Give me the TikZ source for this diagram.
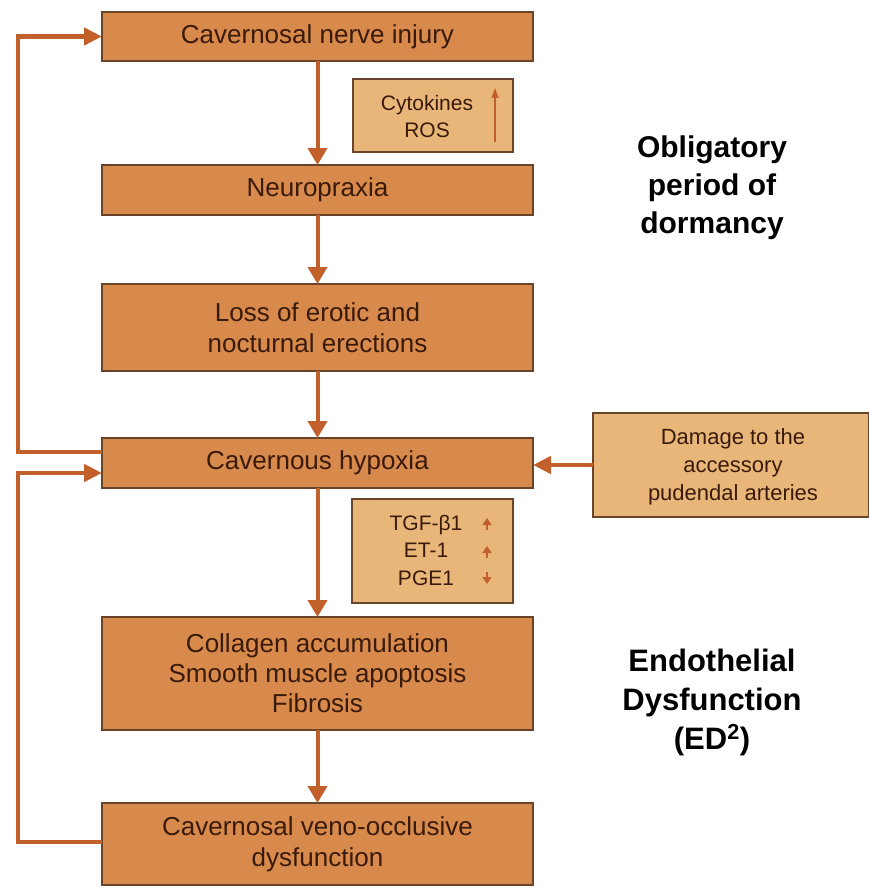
\documentclass[tikz,border=0pt]{standalone}
\usepackage{fontspec}
\setmainfont{Liberation Sans}
\usetikzlibrary{arrows.meta}
\definecolor{boxfill}{RGB}{216,138,76}
\definecolor{lightfill}{RGB}{232,182,120}
\definecolor{boxline}{RGB}{105,68,40}
\definecolor{flow}{RGB}{194,96,44}
\definecolor{txt}{RGB}{58,26,10}
\begin{document}
\begin{tikzpicture}[x=1pt,y=1pt,
  mainbox/.style={draw=boxline, line width=1.5pt, fill=boxfill, inner sep=0pt, outer sep=0pt,
    minimum width=431pt, align=center, text=txt, font=\fontsize{26}{31}\selectfont},
  lightbox/.style={draw=boxline, line width=1.5pt, fill=lightfill, inner sep=0pt, outer sep=0pt},
  smalltxt/.style={align=center, text=txt, inner sep=0pt, font=\fontsize{21}{27}\selectfont},
  sidelbl/.style={align=center, text=black, inner sep=0pt, font=\bfseries\fontsize{30}{38}\selectfont},
  vflow/.style={draw=flow, line width=4pt, -{Triangle[width=19pt,length=17pt]}},
  fback/.style={draw=flow, line width=4.5pt, -{Triangle[width=17pt,length=18pt]}},
  fline/.style={draw=flow, line width=4.5pt},
  thinarr/.style={draw=flow, line width=1.5pt, -{Triangle[width=7pt,length=10pt]}},
  tinyarr/.style={draw=flow, line width=2pt, -{Triangle[width=9pt,length=7pt]}}
]
\useasboundingbox[fill=white] (0,0) rectangle (868,-888);

% main chain
\node[mainbox, minimum height=49pt] (nerve) at (317.5,-36.5) {Cavernosal nerve injury};
\node[mainbox, minimum height=50pt] (neuro) at (317.5,-190) {Neuropraxia};
\node[mainbox, minimum height=87pt] (loss) at (317.5,-327.5) {Loss of erotic and\\nocturnal erections};
\node[mainbox, minimum height=50pt] (hyp) at (317.5,-463) {Cavernous hypoxia};
\node[mainbox, minimum height=113pt, font=\fontsize{26}{30}\selectfont] (coll) at (317.5,-673.5)
  {Collagen accumulation\\Smooth muscle apoptosis\\Fibrosis};
\node[mainbox, minimum height=82pt] (veno) at (317.5,-844) {Cavernosal veno-occlusive\\dysfunction};

% side boxes
\node[lightbox, minimum width=160pt, minimum height=73pt] (cyto) at (433,-115.5) {};
\node[smalltxt] (cytotxt) at (427,-116.5) {Cytokines\\ROS};
\draw[thinarr] (495,-142) -- (495,-88);

\node[lightbox, minimum width=161pt, minimum height=104pt] (tgf) at (432.5,-551) {};
\node[smalltxt, font=\fontsize{21}{27.5}\selectfont] (tgftxt) at (426,-550) {TGF-β1\\ET-1\\PGE1};
\draw[tinyarr] (487,-530) -- (487,-518);
\draw[tinyarr] (487,-558) -- (487,-546);
\draw[tinyarr] (487,-572) -- (487,-584);

\node[lightbox, minimum width=276pt, minimum height=104pt] (dmg) at (731,-465) {};
\node[smalltxt, font=\fontsize{22}{28}\selectfont] (dmgtxt) at (733,-467) {Damage to the\\accessory\\pudendal arteries};

% side labels
\node[sidelbl] (lbl1) at (712,-188) {Obligatory\\period of\\dormancy};
\node[sidelbl, font=\bfseries\fontsize{31}{39}\selectfont] (lbl2) at (712,-702) {Endothelial\\Dysfunction\\(ED\textsuperscript{2})};

% vertical flow
\draw[vflow] (nerve) -- (neuro);
\draw[vflow] (neuro) -- (loss);
\draw[vflow] (loss) -- (hyp);
\draw[vflow] (hyp) -- (coll);
\draw[vflow] (coll) -- (veno);

% damage -> hypoxia
\draw[fback] (dmg.west) -- (hyp.east |- dmg.west);

% feedback loops
\draw[fback] ([yshift=11pt]hyp.west) -- ++(-84,0) |- (nerve.west);
\draw[fback] ([yshift=2pt]veno.west) -- ++(-84,0) |- ([yshift=-10pt]hyp.west);
\end{tikzpicture}
\end{document}
